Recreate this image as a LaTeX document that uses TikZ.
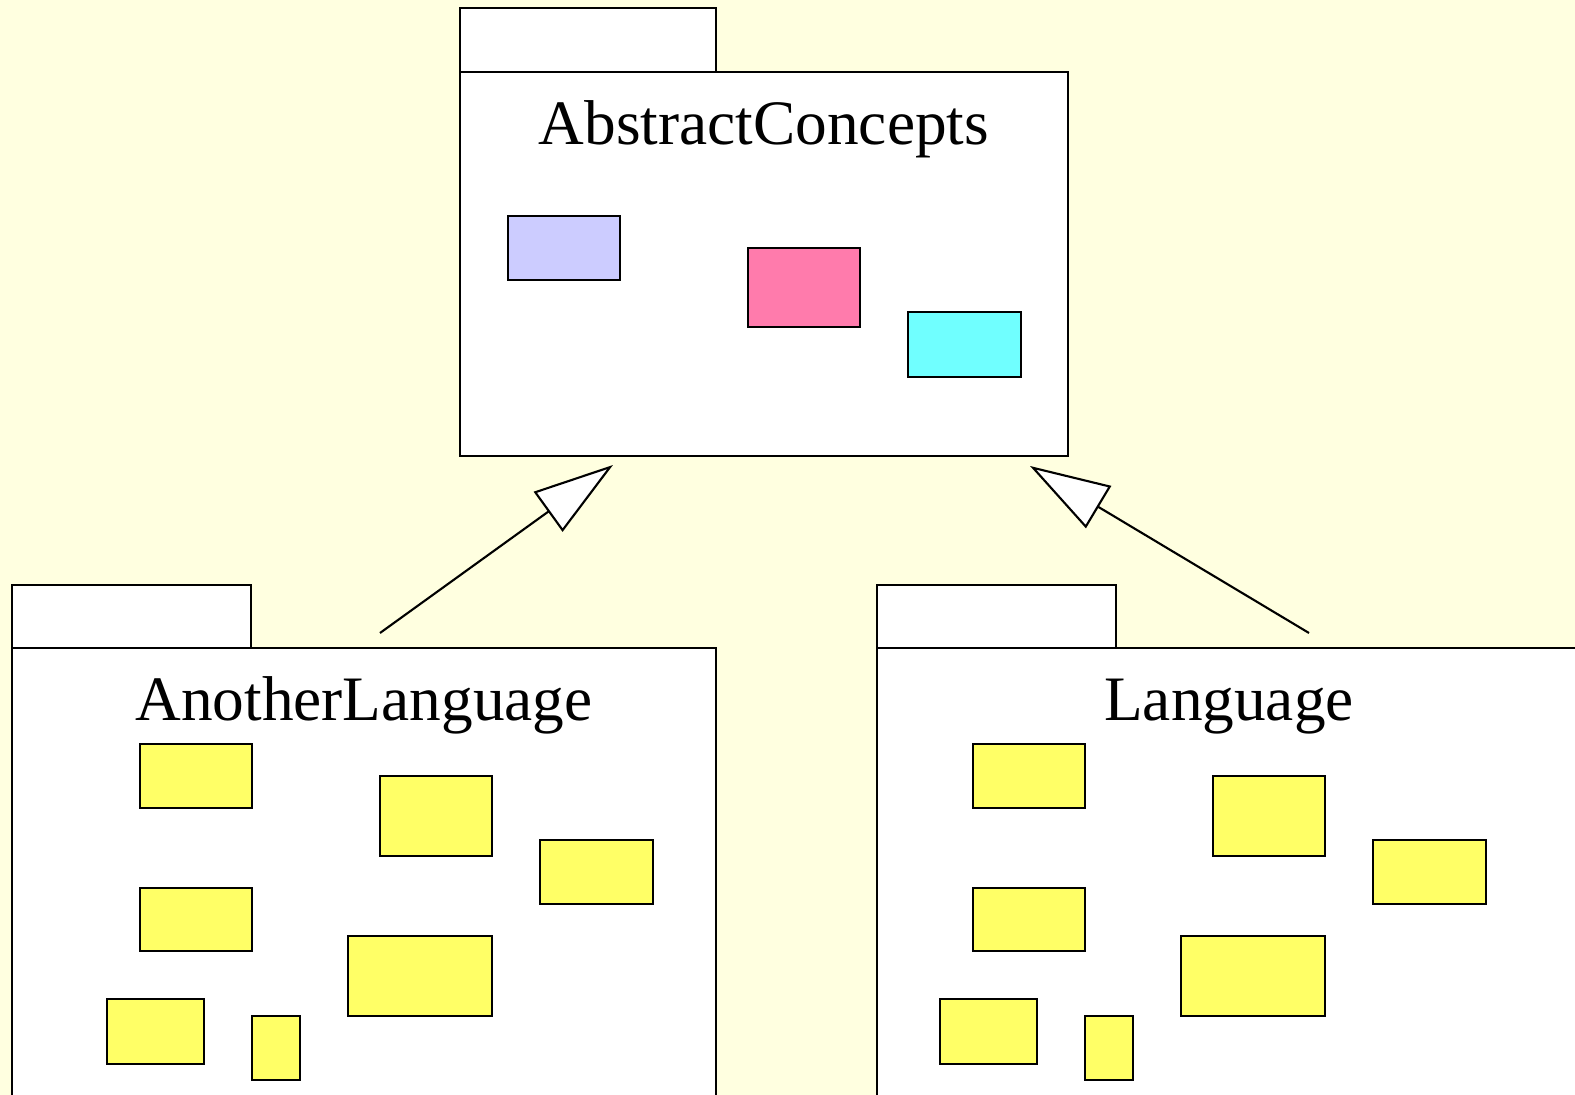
\documentclass[tikz,border=0pt]{standalone}
\usepackage{fontspec}
\setmainfont{Liberation Serif}
\usetikzlibrary{arrows.meta}
\definecolor{paper}{RGB}{255,255,224}
\definecolor{classyellow}{RGB}{255,255,102}
\definecolor{classblue}{RGB}{204,204,255}
\definecolor{classpink}{RGB}{255,123,172}
\definecolor{classcyan}{RGB}{112,255,255}

\begin{document}
\begin{tikzpicture}[x=0.01cm,y=-0.01cm,line width=0.6pt,
  pkg/.style={draw,fill=white},
  cls/.style={draw,fill=#1},
  pkgname/.style={font=\fontsize{18}{20}\selectfont,anchor=base,inner sep=0pt},
  generalize/.style={-{Triangle[open,length=0.8cm,width=0.49cm,fill=white]}}]
\useasboundingbox (0,0) rectangle (1575,1095);
\clip (0,0) rectangle (1575,1095);
\fill[paper] (0,0) rectangle (1575,1095);

% AbstractConcepts package
\draw[pkg] (460,8) rectangle (716,72);
\draw[pkg] (460,72) rectangle (1068,456);
\node[pkgname] (abstract) at (764,145) {AbstractConcepts};
\draw[cls=classblue] (508,216) rectangle (620,280);
\draw[cls=classpink] (748,248) rectangle (860,327);
\draw[cls=classcyan] (908,312) rectangle (1021,377);

% AnotherLanguage and Language packages
\foreach \px/\cx/\name in {12/140/AnotherLanguage,877/973/Language}{
  \draw[pkg] (\px,585) rectangle (\px+239,648);
  \draw[pkg] (\px,648) rectangle (\px+704,1110);
  \node[pkgname] at (\px+352,721) {\name};
  \begin{scope}[xshift=(\cx-140)*0.01cm]
    \draw[cls=classyellow] (140,744) rectangle (252,808);
    \draw[cls=classyellow] (380,776) rectangle (492,856);
    \draw[cls=classyellow] (540,840) rectangle (653,904);
    \draw[cls=classyellow] (140,888) rectangle (252,951);
    \draw[cls=classyellow] (348,936) rectangle (492,1016);
    \draw[cls=classyellow] (107,999) rectangle (204,1064);
    \draw[cls=classyellow] (252,1016) rectangle (300,1080);
  \end{scope}
}

% generalization arrows
\coordinate (another) at (380,633);
\coordinate (language) at (1309,633);
\coordinate (tipL) at (613,465);
\coordinate (tipR) at (1030,466);
\draw[generalize] (another) -- (tipL);
\draw[generalize] (language) -- (tipR);
\end{tikzpicture}
\end{document}
